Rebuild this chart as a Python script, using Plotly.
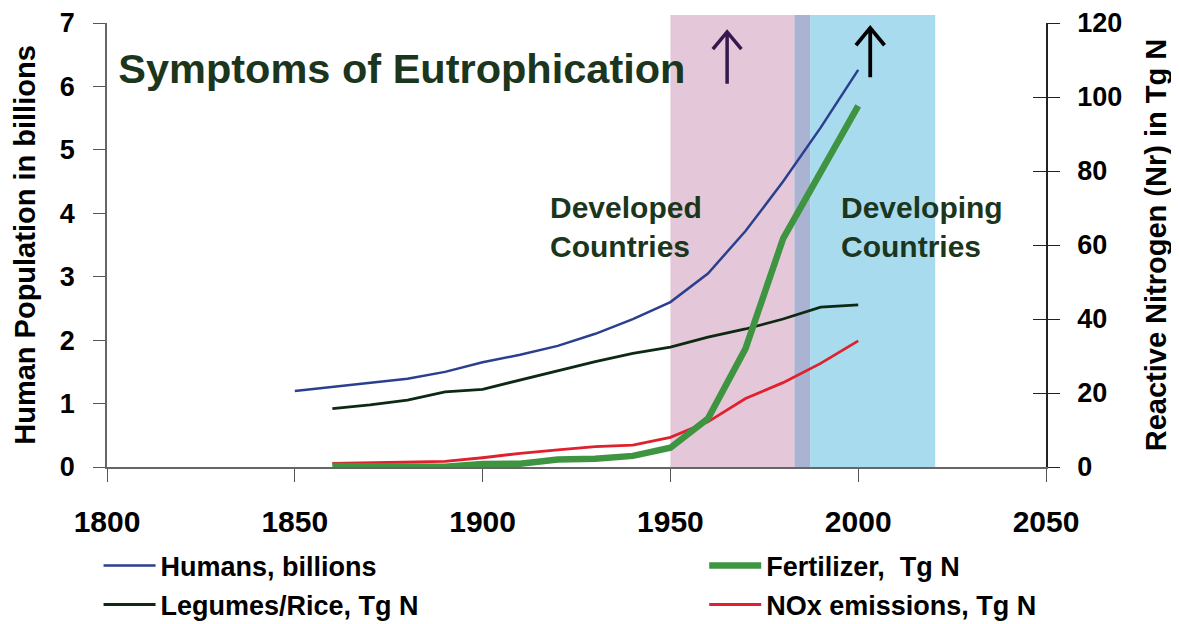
import plotly.graph_objects as go

# ---- data ----
years_humans = [1850, 1860, 1870, 1880, 1890, 1900, 1910, 1920, 1930, 1940,
                1950, 1960, 1970, 1980, 1990, 2000]
humans_billions = [1.2, 1.26, 1.32, 1.39, 1.5, 1.65, 1.77, 1.91, 2.1, 2.33,
                   2.6, 3.05, 3.72, 4.5, 5.35, 6.26]

years_n = [1860, 1870, 1880, 1890, 1900, 1910, 1920, 1930, 1940,
           1950, 1960, 1970, 1980, 1990, 2000]
legumes_tgn = [15.8, 16.8, 18.1, 20.3, 21.0, 23.5, 26.2, 28.5, 30.7,
               32.4, 35.1, 37.3, 40.0, 43.2, 43.8]
nox_tgn = [1.0, 1.2, 1.4, 1.5, 2.5, 3.7, 4.6, 5.5, 5.9,
           8.0, 12.2, 18.5, 22.8, 28.0, 34.1]
fertilizer_tgn = [0.3, 0.3, 0.2, 0.1, 0.8, 0.9, 2.0, 2.2, 3.0,
                  5.2, 13.1, 32.0, 61.7, 80.0, 97.6]

x_ticks = [1800, 1850, 1900, 1950, 2000, 2050]
left_ticks = [0, 1, 2, 3, 4, 5, 6, 7]
right_ticks = [0, 20, 40, 60, 80, 100, 120]

# shaded periods (years)
developed_period = (1950, 1983)
overlap_period = (1983, 1987.2)
developing_period = (1987.2, 2020.5)
arrow_years = [1965.1, 2003.2]

FONT = "Liberation Sans, Arial, sans-serif"
DARK_GREEN = "#1b361c"

fig = go.Figure()

fig.add_trace(go.Scatter(
    x=years_humans, y=humans_billions, name="Humans, billions", mode="lines",
    line=dict(color="#2b3f8f", width=2.5), yaxis="y",
    legend="legend", legendgroup="h", legendrank=1))
fig.add_trace(go.Scatter(
    x=years_n, y=legumes_tgn, name="Legumes/Rice, Tg N", mode="lines",
    line=dict(color="#0d2912", width=2.8), yaxis="y2",
    legend="legend", legendgroup="l", legendrank=2))
fig.add_trace(go.Scatter(
    x=years_n, y=nox_tgn, name="NOx emissions, Tg N", mode="lines",
    line=dict(color="#e0202c", width=2.8), yaxis="y2",
    legend="legend2", legendgroup="n", legendrank=2))
fig.add_trace(go.Scatter(
    x=years_n, y=fertilizer_tgn, name="Fertilizer,  Tg N", mode="lines",
    line=dict(color="#3f9442", width=6.5), yaxis="y2",
    legend="legend2", legendgroup="f", legendrank=1))
# empty trace to carry the inner half of the right-axis cross ticks
fig.add_trace(go.Scatter(x=[], y=[], yaxis="y3", showlegend=False, hoverinfo="skip"))

shapes = []
for (a, b), col in [(developed_period, "#e4c8d9"),
                    (overlap_period, "#aab4d2"),
                    (developing_period, "#a8dbee")]:
    shapes.append(dict(type="rect", xref="x", yref="paper", x0=a, x1=b,
                       y0=0, y1=1.018, fillcolor=col, line=dict(width=0),
                       layer="below"))

# upward arrows (stem + open chevron head)
arrow_specs = [(arrow_years[0], 0.980, 0.863, 0.941, "#34184e", 3.5),
               (arrow_years[1], 0.989, 0.878, 0.950, "#000000", 3.8)]
for xa, ytip, ybot, yarm, col, w in arrow_specs:
    path = (f"M {xa} {ybot} L {xa} {ytip} "
            f"M {xa - 3.8} {yarm} L {xa} {ytip} L {xa + 3.8} {yarm}")
    shapes.append(dict(type="path", xref="x", yref="paper", path=path,
                       line=dict(color=col, width=w), layer="above"))

fig.update_layout(
    width=1171, height=616,
    margin=dict(l=99, r=133, t=15, b=157, autoexpand=False),
    paper_bgcolor="white", plot_bgcolor="rgba(0,0,0,0)",
    font=dict(family=FONT, color="black", weight="bold"),
    title=dict(text="Symptoms of Eutrophication", xref="paper", yref="paper",
               x=0.012, y=0.898, xanchor="left", yanchor="middle",
               font=dict(size=41.5, color=DARK_GREEN, family=FONT, weight="bold")),
    xaxis=dict(range=[1800, 2050], tickvals=x_ticks, ticks="outside", ticklen=13,
               tickcolor="#555", showline=True, linecolor="#666", linewidth=1.5,
               showgrid=False, zeroline=False, tickfont=dict(size=30),
               ticklabelstandoff=14, automargin=False),
    yaxis=dict(range=[0, 7], tickvals=left_ticks, ticks="outside", ticklen=12,
               tickcolor="#555", showline=True, linecolor="#666", linewidth=1.5,
               showgrid=False, zeroline=False, tickfont=dict(size=27),
               ticklabelstandoff=13, automargin=False,
               title=dict(text="Human Population in billions",
                          font=dict(size=29), standoff=16)),
    yaxis2=dict(range=[0, 120], tickvals=right_ticks, overlaying="y", side="right",
                anchor="x", ticks="outside", ticklen=12, tickcolor="#222",
                showline=True, linecolor="#222", linewidth=1.5, showgrid=False,
                zeroline=False, tickfont=dict(size=27), ticklabelstandoff=12,
                automargin=False,
                title=dict(text="Reactive Nitrogen (Nr) in Tg N",
                           font=dict(size=29), standoff=24)),
    yaxis3=dict(range=[0, 120], tickvals=right_ticks, overlaying="y", side="right",
                anchor="x", ticks="inside", ticklen=13, tickcolor="#222",
                showline=False, showgrid=False, zeroline=False,
                showticklabels=False, automargin=False),
    legend=dict(x=-0.009, y=-0.1675, xanchor="left", yanchor="top",
                font=dict(size=27), tracegroupgap=1, itemwidth=52,
                bgcolor="rgba(0,0,0,0)"),
    legend2=dict(x=0.636, y=-0.1675, xanchor="left", yanchor="top",
                 font=dict(size=27), tracegroupgap=1, itemwidth=52,
                 bgcolor="rgba(0,0,0,0)"),
    shapes=shapes,
    annotations=[
        dict(text="Developed<br>Countries", xref="x", yref="y", x=1917.3, y=3.78,
             xanchor="left", yanchor="middle", align="left", showarrow=False,
             font=dict(size=30, color=DARK_GREEN)),
        dict(text="Developing<br>Countries", xref="x", yref="y", x=1995.0, y=3.78,
             xanchor="left", yanchor="middle", align="left", showarrow=False,
             font=dict(size=30, color=DARK_GREEN)),
    ],
    showlegend=True,
)

fig.write_html("out.html")
